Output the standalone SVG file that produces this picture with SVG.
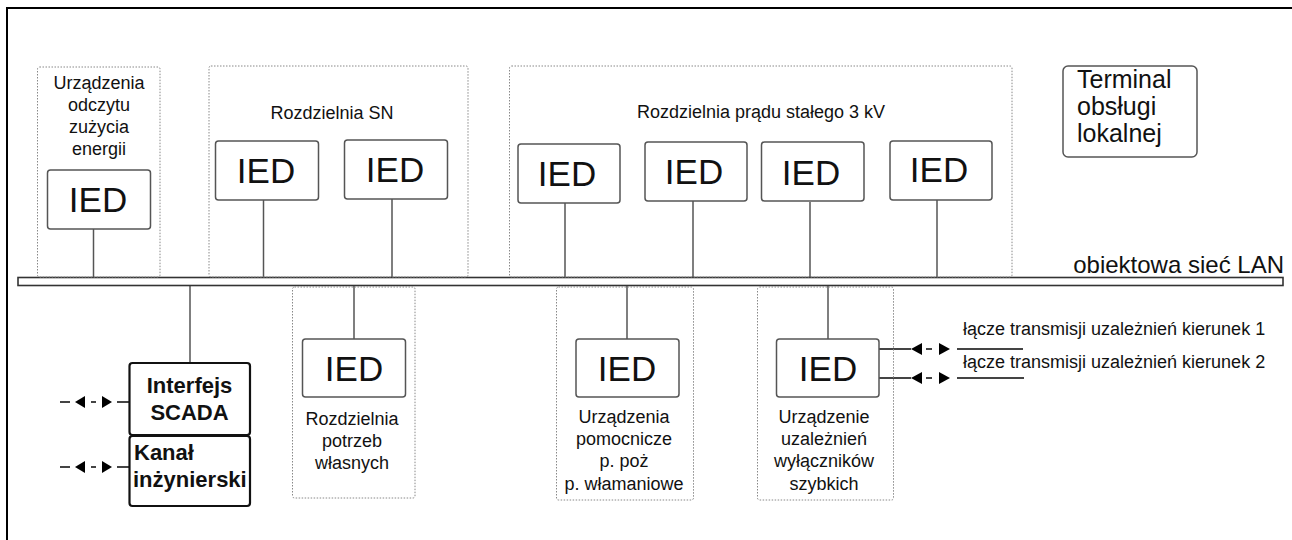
<svg xmlns="http://www.w3.org/2000/svg" width="1292" height="540" viewBox="0 0 1292 540">
<style>
text{font-family:"Liberation Sans",Arial,sans-serif;fill:#111}
.lbl{font-size:18px;text-anchor:middle}
.ied{font-size:35px;text-anchor:middle}
.iedbox{fill:#fff;stroke:#555;stroke-width:1.5}
.grp{fill:none;stroke:#888;stroke-width:1;stroke-dasharray:1.5 1.5}
.ln{stroke:#555;stroke-width:1.5;fill:none}
.bold{font-size:22px;font-weight:bold}
.tri{fill:#000}
.dash{stroke:#444;stroke-width:2}
.term{font-size:25px}
</style>
<rect width="1292" height="540" fill="#fff"/>
<path d="M7 540 V8 H1292" fill="none" stroke="#000" stroke-width="2"/>

<g id="connectors">
<line class="ln" x1="93.5" y1="229" x2="93.5" y2="278"/>
<line class="ln" x1="263.5" y1="200" x2="263.5" y2="278"/>
<line class="ln" x1="392" y1="199" x2="392" y2="278"/>
<line class="ln" x1="565" y1="203" x2="565" y2="278"/>
<line class="ln" x1="693" y1="201" x2="693" y2="278"/>
<line class="ln" x1="810" y1="202" x2="810" y2="278"/>
<line class="ln" x1="937" y1="200" x2="937" y2="278"/>
<line class="ln" x1="190" y1="286" x2="190" y2="363"/>
<line class="ln" x1="354" y1="286" x2="354" y2="339"/>
<line class="ln" x1="627" y1="286" x2="627" y2="339"/>
<line class="ln" x1="828" y1="286" x2="828" y2="339"/>
<g id="arrow-scada">
<line class="dash" x1="60" y1="402" x2="70" y2="402"/>
<polygon class="tri" points="75,402 85,396 85,408"/>
<line class="dash" x1="91" y1="402" x2="96" y2="402"/>
<polygon class="tri" points="112,402 102,396 102,408"/>
<line class="dash" x1="117" y1="402" x2="129" y2="402"/>
</g>
<g id="arrow-kanal">
<line class="dash" x1="60" y1="467" x2="70" y2="467"/>
<polygon class="tri" points="75,467 85,461 85,473"/>
<line class="dash" x1="91" y1="467" x2="96" y2="467"/>
<polygon class="tri" points="112,467 102,461 102,473"/>
<line class="dash" x1="117" y1="467" x2="129" y2="467"/>
</g>
<g id="arrow-k1">
<line class="dash" x1="879" y1="349" x2="911" y2="349"/>
<polygon class="tri" points="911,349 922,343 922,355"/>
<line class="dash" x1="926" y1="349" x2="932" y2="349"/>
<polygon class="tri" points="950,349 939,343 939,355"/>
<line class="dash" x1="957" y1="349" x2="1023" y2="349"/>
</g>
<g id="arrow-k2">
<line class="dash" x1="879" y1="378" x2="911" y2="378"/>
<polygon class="tri" points="911,378 922,372 922,384"/>
<line class="dash" x1="926" y1="378" x2="932" y2="378"/>
<polygon class="tri" points="950,378 939,372 939,384"/>
<line class="dash" x1="957" y1="378" x2="1024" y2="378"/>
</g>
</g>

<g id="lan">
<rect x="18" y="277.5" width="1265" height="8" fill="#fff" stroke="#333" stroke-width="1.6"/>
<text x="1284" y="273" font-size="24" text-anchor="end">obiektowa sieć LAN</text>
</g>

<g id="grp-energia">
<rect class="grp" x="37.5" y="67" width="122.5" height="210" rx="2"/>
<text class="lbl" x="99" y="89">Urządzenia</text>
<text class="lbl" x="99" y="111">odczytu</text>
<text class="lbl" x="99" y="133">zużycia</text>
<text class="lbl" x="99" y="155">energii</text>
</g>
<g id="ied-energia">
<rect class="iedbox" x="47.5" y="170" width="103" height="59" rx="3"/>
<text class="ied" x="98" y="212">IED</text>
</g>

<g id="grp-sn">
<rect class="grp" x="209" y="66" width="259" height="211" rx="2"/>
<text class="lbl" x="332" y="119">Rozdzielnia SN</text>
</g>
<g id="ied-sn1">
<rect class="iedbox" x="215.5" y="141" width="103" height="59" rx="3"/>
<text class="ied" x="266" y="183">IED</text>
</g>
<g id="ied-sn2">
<rect class="iedbox" x="344.5" y="140" width="103" height="59" rx="3"/>
<text class="ied" x="395" y="182">IED</text>
</g>

<g id="grp-dc">
<rect class="grp" x="509.5" y="66" width="502.5" height="211" rx="2"/>
<text class="lbl" x="761" y="118">Rozdzielnia prądu stałego 3 kV</text>
</g>
<g id="ied-dc1">
<rect class="iedbox" x="518" y="144" width="102" height="59" rx="3"/>
<text class="ied" x="567" y="186">IED</text>
</g>
<g id="ied-dc2">
<rect class="iedbox" x="645" y="142" width="102" height="59" rx="3"/>
<text class="ied" x="694" y="184">IED</text>
</g>
<g id="ied-dc3">
<rect class="iedbox" x="761.5" y="142" width="102.5" height="59" rx="3"/>
<text class="ied" x="811" y="185">IED</text>
</g>
<g id="ied-dc4">
<rect class="iedbox" x="890" y="141" width="102" height="59" rx="3"/>
<text class="ied" x="939" y="182">IED</text>
</g>

<g id="terminal">
<rect x="1063" y="66" width="134" height="91" rx="5" fill="#fff" stroke="#555" stroke-width="1.5"/>
<text class="term" x="1077" y="88">Terminal</text>
<text class="term" x="1077" y="115">obsługi</text>
<text class="term" x="1077" y="142">lokalnej</text>
</g>

<g id="scada">
<rect x="129.5" y="363" width="120.5" height="72" rx="3" fill="#fff" stroke="#111" stroke-width="2.2"/>
<text class="bold" x="189.5" y="393" text-anchor="middle">Interfejs</text>
<text class="bold" x="189.5" y="420" text-anchor="middle">SCADA</text>
</g>
<g id="kanal">
<rect x="129.5" y="436" width="120.5" height="70" rx="3" fill="#fff" stroke="#111" stroke-width="2.2"/>
<text class="bold" x="134" y="460">Kanał</text>
<text class="bold" x="133" y="487">inżynierski</text>
</g>

<g id="grp-potrzeb">
<rect class="grp" x="292.5" y="287" width="122.5" height="211" rx="2"/>
<text class="lbl" x="352" y="425">Rozdzielnia</text>
<text class="lbl" x="352" y="447">potrzeb</text>
<text class="lbl" x="352" y="469">własnych</text>
</g>
<g id="ied-potrzeb">
<rect class="iedbox" x="302.5" y="339" width="103" height="58" rx="3"/>
<text class="ied" x="354" y="381">IED</text>
</g>

<g id="grp-pomocnicze">
<rect class="grp" x="556.5" y="287" width="137" height="213" rx="2"/>
<text class="lbl" x="624" y="423">Urządzenia</text>
<text class="lbl" x="624" y="445">pomocnicze</text>
<text class="lbl" x="624" y="467">p. poż</text>
<text class="lbl" x="624" y="490">p. włamaniowe</text>
</g>
<g id="ied-pomocnicze">
<rect class="iedbox" x="576" y="339" width="103" height="58" rx="3"/>
<text class="ied" x="627" y="381">IED</text>
</g>

<g id="grp-uzaleznien">
<rect class="grp" x="757.5" y="287" width="136" height="213" rx="2"/>
<text class="lbl" x="824" y="423">Urządzenie</text>
<text class="lbl" x="824" y="445">uzależnień</text>
<text class="lbl" x="824" y="467">wyłączników</text>
<text class="lbl" x="824" y="490">szybkich</text>
</g>
<g id="ied-uzaleznien">
<rect class="iedbox" x="776.5" y="339" width="102.5" height="58" rx="3"/>
<text class="ied" x="828" y="381">IED</text>
</g>

<g id="links">
<text x="963" y="335" font-size="18">łącze transmisji uzależnień kierunek 1</text>
<text x="963" y="368" font-size="18">łącze transmisji uzależnień kierunek 2</text>
</g>
</svg>
